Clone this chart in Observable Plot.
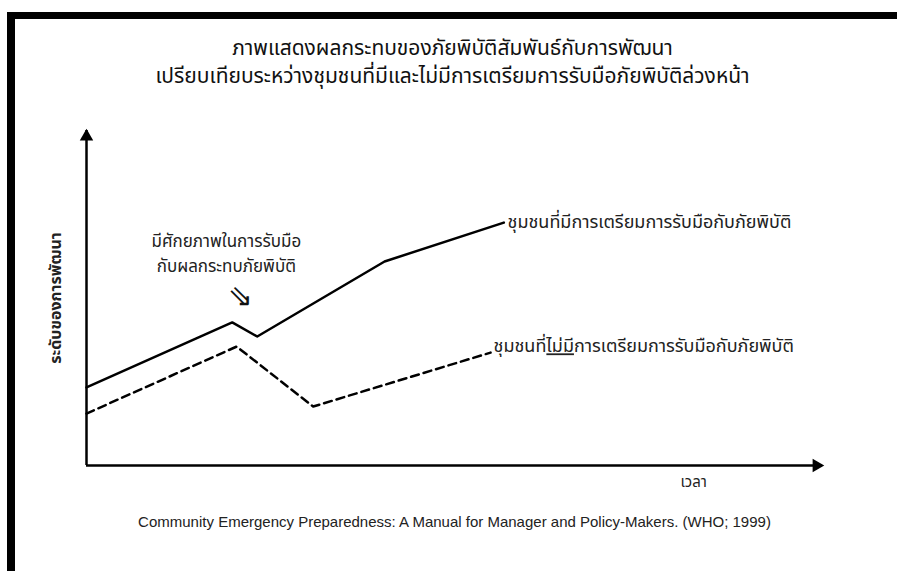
<!DOCTYPE html>
<html><head><meta charset="utf-8">
<script src="https://cdn.jsdelivr.net/npm/d3@7"></script>
<script src="https://cdn.jsdelivr.net/npm/@observablehq/plot@0.6"></script>
<style>
body{margin:0;background:#fff;}
#wrap{position:relative;width:897px;height:571px;overflow:hidden;background:#fff;}
.bar-top{position:absolute;left:7px;top:12px;width:890px;height:7px;background:#000}
.bar-left{position:absolute;left:7px;top:12px;width:8px;height:559px;background:#000}
#title{position:absolute;top:35px;left:4px;width:897px;text-align:center;font-family:"Noto Sans Thai","Noto Sans","DejaVu Sans",sans-serif;font-size:21px;line-height:28px;color:#111}
#caption{position:absolute;top:513px;left:6px;width:897px;text-align:center;font-family:"Liberation Sans",Arial,sans-serif;font-size:15px;color:#222}
#chart{position:absolute;left:0;top:0}
</style></head>
<body>
<div id="wrap">
  <div id="chart"></div>
  <div class="bar-top"></div>
  <div class="bar-left"></div>
  <div id="title">ภาพแสดงผลกระทบของภัยพิบัติสัมพันธ์กับการพัฒนา<br>เปรียบเทียบระหว่างชุมชนที่มีและไม่มีการเตรียมการรับมือภัยพิบัติล่วงหน้า</div>
  <div id="caption">Community Emergency Preparedness: A Manual for Manager and Policy-Makers. (WHO; 1999)</div>
</div>
<script>
// Development level over time (arbitrary units)
const prepTime = [0, 1.98, 2.32, 4.05, 5.67];
const prepLevel = [2.33, 4.27, 3.85, 6.09, 7.25];
const unprepTime = [0, 2.04, 3.08, 5.49];
const unprepLevel = [1.55, 3.55, 1.76, 3.37];

const seriesLabels = ["ชุมชนที่มีการเตรียมการรับมือกับภัยพิบัติ", "ชุมชนที่ไม่มีการเตรียมการรับมือกับภัยพิบัติ"];
const seriesLabelTime = [5.72, 5.53];
const seriesLabelLevel = [7.25, 3.55];

const noteLines = ["มีศักยภาพในการรับมือ", "กับผลกระทบภัยพิบัติ"];
const noteTime = [1.90, 1.90];
const noteLevel = [6.69, 5.94];
const arrowTime = 2.09, arrowLevel = 5.04;

const yTitle = "ระดับของการพัฒนา";
const xTitle = "เวลา";
const xTitleTime = 8.25;

const thai = "'Noto Sans Thai','Noto Sans','DejaVu Sans',sans-serif";

const prep = prepTime.map((t, i) => ({t, v: prepLevel[i]}));
const unprep = unprepTime.map((t, i) => ({t, v: unprepLevel[i]}));
const labs = seriesLabels.map((s, i) => ({s, t: seriesLabelTime[i], v: seriesLabelLevel[i]}));
const notes = noteLines.map((s, i) => ({s, t: noteTime[i], v: noteLevel[i]}));

const chart = Plot.plot({
  width: 897, height: 571,
  marginLeft: 86, marginRight: 75, marginTop: 130, marginBottom: 106,
  x: {domain: [0, 10], axis: null},
  y: {domain: [0, 10], axis: null},
  style: {background: "transparent", fontFamily: thai},
  marks: [
    Plot.ruleX([0], {stroke: "black", strokeWidth: 2.5}),
    Plot.ruleY([0], {stroke: "black", strokeWidth: 2.5}),
    Plot.dot([{t: 0, v: 10}], {x: "t", y: "v", symbol: "triangle", r: 5, fill: "black", stroke: null, dy: 6}),
    Plot.dot([{t: 10, v: 0}], {x: "t", y: "v", symbol: "triangle", r: 5, fill: "black", stroke: null, rotate: 90, dx: -6}),
    Plot.line(prep, {x: "t", y: "v", stroke: "black", strokeWidth: 2.5}),
    Plot.line(unprep, {x: "t", y: "v", stroke: "black", strokeWidth: 2.5, strokeDasharray: "8,5"}),
    Plot.text(labs, {x: "t", y: "v", text: "s", textAnchor: "start", fontSize: 18, fill: "#222"}),
    Plot.text(notes, {x: "t", y: "v", text: "s", fontSize: 17, fill: "#222"}),
    Plot.text(["⇘"], {x: [arrowTime], y: [arrowLevel], text: d => d, fontSize: 30, fontFamily: "DejaVu Sans", fill: "#111"}),
    Plot.text([yTitle], {frameAnchor: "left", textAnchor: "middle", dx: -31, rotate: -90, text: d => d, fontSize: 16, fontWeight: "bold", fill: "#222"}),
    Plot.text([xTitle], {x: [xTitleTime], frameAnchor: "bottom", dy: 21, text: d => d, fontSize: 15, fill: "#222"})
  ]
});
document.getElementById("chart").appendChild(chart);

// underline "ไม่มี" in the second series label
d3.select(chart).selectAll("text").each(function() {
  if (this.textContent === seriesLabels[1]) {
    const s = seriesLabels[1], k = s.indexOf("ไม่มี");
    const el = d3.select(this).text(null);
    el.append("tspan").text(s.slice(0, k));
    el.append("tspan").attr("text-decoration", "underline").style("text-decoration", "underline").text("ไม่มี");
    el.append("tspan").text(s.slice(k + 5));
  }
});
</script>
</body></html>
